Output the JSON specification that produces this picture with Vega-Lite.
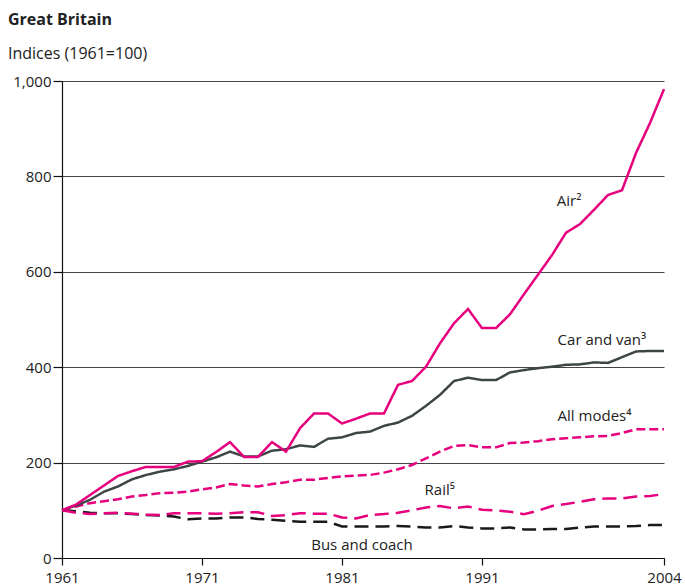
{
  "$schema": "https://vega.github.io/schema/vega-lite/v6.json",
  "width": 602,
  "height": 477,
  "autosize": {"type": "none"},
  "padding": {"left": 62, "top": 81, "right": 21, "bottom": 28},
  "background": "white",
  "config": {
    "font": "Open Sans",
    "view": {"stroke": null},
    "axis": {"labelFont": "Open Sans", "labelFontSize": 15, "labelColor": "#222", "domainColor": "#111", "tickColor": "#111", "titleFont": "Open Sans"}
  },
  "title": {
    "text": "Great Britain",
    "subtitle": "Indices (1961=100)",
    "anchor": "start",
    "frame": "group",
    "dx": -54,
    "offset": 12,
    "font": "Open Sans",
    "fontSize": 16,
    "fontWeight": "bold",
    "color": "#222",
    "subtitleFont": "Open Sans",
    "subtitleFontSize": 16,
    "subtitleColor": "#222",
    "subtitlePadding": 18
  },
  "datasets": {
    "series": [
      {"year": 1961, "Air": 100, "Car and van": 100, "All modes": 100, "Rail": 100, "Bus and coach": 100},
      {"year": 1962, "Air": 112, "Car and van": 110, "All modes": 108, "Rail": 95, "Bus and coach": 98},
      {"year": 1963, "Air": 132, "Car and van": 122, "All modes": 115, "Rail": 92, "Bus and coach": 95},
      {"year": 1964, "Air": 152, "Car and van": 139, "All modes": 119, "Rail": 94, "Bus and coach": 94},
      {"year": 1965, "Air": 172, "Car and van": 150, "All modes": 123, "Rail": 95, "Bus and coach": 94},
      {"year": 1966, "Air": 182, "Car and van": 165, "All modes": 129, "Rail": 93, "Bus and coach": 92},
      {"year": 1967, "Air": 191, "Car and van": 174, "All modes": 132, "Rail": 91, "Bus and coach": 90},
      {"year": 1968, "Air": 191, "Car and van": 181, "All modes": 136, "Rail": 90, "Bus and coach": 89},
      {"year": 1969, "Air": 191, "Car and van": 186, "All modes": 137, "Rail": 94, "Bus and coach": 87},
      {"year": 1970, "Air": 202, "Car and van": 193, "All modes": 139, "Rail": 94, "Bus and coach": 81},
      {"year": 1971, "Air": 203, "Car and van": 202, "All modes": 144, "Rail": 94, "Bus and coach": 83},
      {"year": 1972, "Air": 222, "Car and van": 211, "All modes": 148, "Rail": 93, "Bus and coach": 83},
      {"year": 1973, "Air": 243, "Car and van": 223, "All modes": 155, "Rail": 94, "Bus and coach": 85},
      {"year": 1974, "Air": 212, "Car and van": 213, "All modes": 152, "Rail": 96, "Bus and coach": 85},
      {"year": 1975, "Air": 212, "Car and van": 213, "All modes": 150, "Rail": 96, "Bus and coach": 82},
      {"year": 1976, "Air": 243, "Car and van": 225, "All modes": 155, "Rail": 88, "Bus and coach": 80},
      {"year": 1977, "Air": 223, "Car and van": 228, "All modes": 159, "Rail": 90, "Bus and coach": 78},
      {"year": 1978, "Air": 272, "Car and van": 236, "All modes": 164, "Rail": 94, "Bus and coach": 76},
      {"year": 1979, "Air": 303, "Car and van": 233, "All modes": 164, "Rail": 93, "Bus and coach": 76},
      {"year": 1980, "Air": 303, "Car and van": 250, "All modes": 168, "Rail": 93, "Bus and coach": 76},
      {"year": 1981, "Air": 282, "Car and van": 253, "All modes": 171, "Rail": 85, "Bus and coach": 66},
      {"year": 1982, "Air": 292, "Car and van": 262, "All modes": 173, "Rail": 83, "Bus and coach": 66},
      {"year": 1983, "Air": 303, "Car and van": 265, "All modes": 174, "Rail": 90, "Bus and coach": 66},
      {"year": 1984, "Air": 303, "Car and van": 277, "All modes": 179, "Rail": 92, "Bus and coach": 66},
      {"year": 1985, "Air": 363, "Car and van": 284, "All modes": 186, "Rail": 95, "Bus and coach": 67},
      {"year": 1986, "Air": 371, "Car and van": 298, "All modes": 195, "Rail": 100, "Bus and coach": 66},
      {"year": 1987, "Air": 401, "Car and van": 319, "All modes": 209, "Rail": 106, "Bus and coach": 64},
      {"year": 1988, "Air": 450, "Car and van": 342, "All modes": 223, "Rail": 109, "Bus and coach": 64},
      {"year": 1989, "Air": 492, "Car and van": 371, "All modes": 235, "Rail": 104, "Bus and coach": 67},
      {"year": 1990, "Air": 522, "Car and van": 378, "All modes": 237, "Rail": 108, "Bus and coach": 64},
      {"year": 1991, "Air": 482, "Car and van": 373, "All modes": 232, "Rail": 101, "Bus and coach": 62},
      {"year": 1992, "Air": 482, "Car and van": 373, "All modes": 232, "Rail": 100, "Bus and coach": 62},
      {"year": 1993, "Air": 511, "Car and van": 389, "All modes": 241, "Rail": 97, "Bus and coach": 64},
      {"year": 1994, "Air": 553, "Car and van": 394, "All modes": 242, "Rail": 92, "Bus and coach": 60},
      {"year": 1995, "Air": 594, "Car and van": 398, "All modes": 245, "Rail": 99, "Bus and coach": 60},
      {"year": 1996, "Air": 635, "Car and van": 401, "All modes": 249, "Rail": 109, "Bus and coach": 61},
      {"year": 1997, "Air": 682, "Car and van": 405, "All modes": 251, "Rail": 113, "Bus and coach": 61},
      {"year": 1998, "Air": 700, "Car and van": 406, "All modes": 253, "Rail": 118, "Bus and coach": 64},
      {"year": 1999, "Air": 730, "Car and van": 410, "All modes": 255, "Rail": 123, "Bus and coach": 66},
      {"year": 2000, "Air": 761, "Car and van": 409, "All modes": 256, "Rail": 125, "Bus and coach": 66},
      {"year": 2001, "Air": 771, "Car and van": 421, "All modes": 262, "Rail": 125, "Bus and coach": 66},
      {"year": 2002, "Air": 849, "Car and van": 433, "All modes": 270, "Rail": 129, "Bus and coach": 67},
      {"year": 2003, "Air": 912, "Car and van": 434, "All modes": 270, "Rail": 130, "Bus and coach": 69},
      {"year": 2004, "Air": 983, "Car and van": 434, "All modes": 270, "Rail": 134, "Bus and coach": 69}
    ],
    "labels": [
      {"label": "Air²", "year": 1996.34, "value": 749},
      {"label": "Car and van³", "year": 1996.4, "value": 457},
      {"label": "All modes⁴", "year": 1996.4, "value": 298},
      {"label": "Rail⁵", "year": 1986.9, "value": 143},
      {"label": "Bus and coach", "year": 1978.8, "value": 27}
    ]
  },
  "layer": [
    {
      "data": {"name": "series"},
      "transform": [
        {"fold": ["Bus and coach", "Rail", "All modes", "Car and van", "Air"], "as": ["mode", "value"]}
      ],
      "mark": {"type": "line", "strokeWidth": 2.5, "strokeJoin": "miter"},
      "encoding": {
        "x": {
          "field": "year", "type": "quantitative",
          "scale": {"domain": [1961, 2004], "nice": false, "zero": false},
          "axis": {"title": null, "values": [1961, 1971, 1981, 1991, 2004], "format": "d", "grid": false, "tickSize": 7, "labelPadding": 5, "domainWidth": 1.2, "tickWidth": 1.2, "labelFlush": false}
        },
        "y": {
          "field": "value", "type": "quantitative",
          "scale": {"domain": [0, 1000], "nice": false},
          "axis": {"title": null, "values": [0, 200, 400, 600, 800, 1000], "format": ",d", "grid": true, "gridColor": "#444", "gridWidth": 1, "tickSize": 9, "labelPadding": 2, "domainWidth": 1.2, "tickWidth": 1.2}
        },
        "color": {
          "field": "mode", "type": "nominal", "legend": null,
          "scale": {"domain": ["Air", "Car and van", "All modes", "Rail", "Bus and coach"], "range": ["#e6007e", "#3d4547", "#e6007e", "#e6007e", "#1a1a1a"]}
        },
        "strokeDash": {
          "field": "mode", "type": "nominal", "legend": null,
          "scale": {"domain": ["Air", "Car and van", "All modes", "Rail", "Bus and coach"], "range": [[1, 0], [1, 0], [9, 4], [14, 7], [14, 7]]}
        }
      }
    },
    {
      "data": {"name": "labels"},
      "mark": {"type": "text", "align": "left", "baseline": "middle", "fontSize": 15, "font": "Open Sans", "color": "#222"},
      "encoding": {
        "x": {"field": "year", "type": "quantitative"},
        "y": {"field": "value", "type": "quantitative"},
        "text": {"field": "label"}
      }
    }
  ]
}
